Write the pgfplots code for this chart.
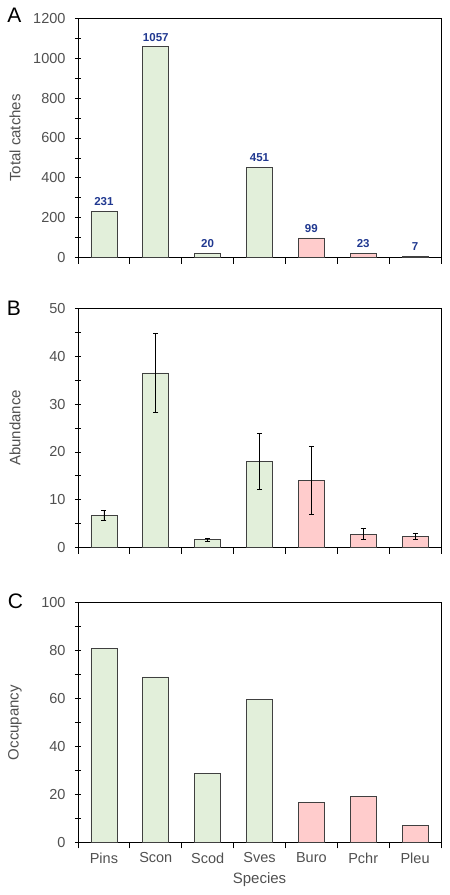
\documentclass[border=0pt]{standalone}
\usepackage{fontspec}
\setmainfont{Liberation Sans}
\usepackage{pgfplots}
\usepackage{pgfplotstable}
\pgfplotsset{compat=1.18}

\definecolor{barGreen}{RGB}{226,239,218}
\definecolor{barPink}{RGB}{255,204,204}
\definecolor{barEdge}{RGB}{64,64,64}
\definecolor{tickGrey}{RGB}{80,80,80}
\definecolor{valBlue}{RGB}{32,56,144}

% columns: position, total catches, abundance, abundance error, occupancy
\pgfplotstableread{
x catches abund err occ
0 231 6.75 0.95 80.9
1 1057 36.5 8.2 69.1
2 20 1.67 0.28 28.6
3 451 18.0 5.9 59.7
}\groupA
\pgfplotstableread{
x catches abund err occ
4 99 14.1 7.1 16.7
5 23 2.86 1.1 19.0
6 7 2.3 0.62 7.1
}\groupB

\pgfplotsset{
  panel/.style={
    scale only axis, width=363pt, height=239.4pt, anchor=south west,
    xmin=-0.5, xmax=6.5, ymin=0,
    axis line style={black, line width=0.8pt},
    tick pos=left,
    xtick={0,...,6},
    minor xtick={-0.5,0.5,...,6.5},
    major x tick style={draw=none},
    xtick align=outside, ytick align=center,
    minor y tick num=1,
    every tick/.style={black, line width=0.8pt},
    major tick length=6pt, minor tick length=6pt,
    tick label style={font=\fontsize{14.5}{16}\selectfont, text=tickGrey},
    yticklabel style={xshift=-6pt},
    xticklabel style={yshift=-1pt},
    /pgf/number format/assume math mode=true,
    /pgf/number format/1000 sep={},
    every axis y label/.style={at={(axis description cs:-0.1735,0.5)}, anchor=center, rotate=90,
      font=\fontsize{15}{17}\selectfont, text=tickGrey},
    every axis x label/.style={at={(axis description cs:0.5,-0.1575)}, anchor=center,
      font=\fontsize{15}{17}\selectfont, text=tickGrey},
  },
  greenbar/.style={ybar, bar width=0.5, bar shift=0pt, fill=barGreen, draw=barEdge, line width=0.7pt},
  pinkbar/.style={ybar, bar width=0.5, bar shift=0pt, fill=barPink, draw=barEdge, line width=0.7pt},
  errstyle/.style={error bars/.cd, y dir=both, y explicit,
    error bar style={black, line width=0.7pt},
    error mark options={rotate=90, mark size=2.5pt, black, line width=0.7pt}},
}

\begin{document}
\begin{tikzpicture}
\useasboundingbox (0pt,0pt) rectangle (450pt,895pt);

% A: total catches
\begin{axis}[panel, at={(78pt,637.3pt)}, ymax=1200, ytick={0,200,...,1200},
  xticklabels={}, ylabel={Total catches},
  nodes near coords,
  every node near coord/.append style={font=\fontsize{11.5}{13}\selectfont\bfseries, text=valBlue, yshift=2pt}]
  \addplot[greenbar] table[x=x, y=catches] {\groupA};
  \addplot[pinkbar] table[x=x, y=catches] {\groupB};
\end{axis}

% B: abundance
\begin{axis}[panel, at={(78pt,347.3pt)}, ymax=50, ytick={0,10,...,50},
  xticklabels={}, ylabel={Abundance}]
  \addplot[greenbar, errstyle] table[x=x, y=abund, y error=err] {\groupA};
  \addplot[pinkbar, errstyle] table[x=x, y=abund, y error=err] {\groupB};
\end{axis}

% C: occupancy
\begin{axis}[panel, at={(78pt,52.7pt)}, ymax=100, ytick={0,20,...,100},
  xticklabels={Pins,Scon,Scod,Sves,Buro,Pchr,Pleu},
  ylabel={Occupancy}, xlabel={Species}]
  \addplot[greenbar] table[x=x, y=occ] {\groupA};
  \addplot[pinkbar] table[x=x, y=occ] {\groupB};
\end{axis}

\node[font=\fontsize{21}{23}\selectfont] at (14.5pt,879.5pt) {A};
\node[font=\fontsize{21}{23}\selectfont] at (14pt,587pt) {B};
\node[font=\fontsize{21}{23}\selectfont] at (15.5pt,293.5pt) {C};
\end{tikzpicture}
\end{document}
